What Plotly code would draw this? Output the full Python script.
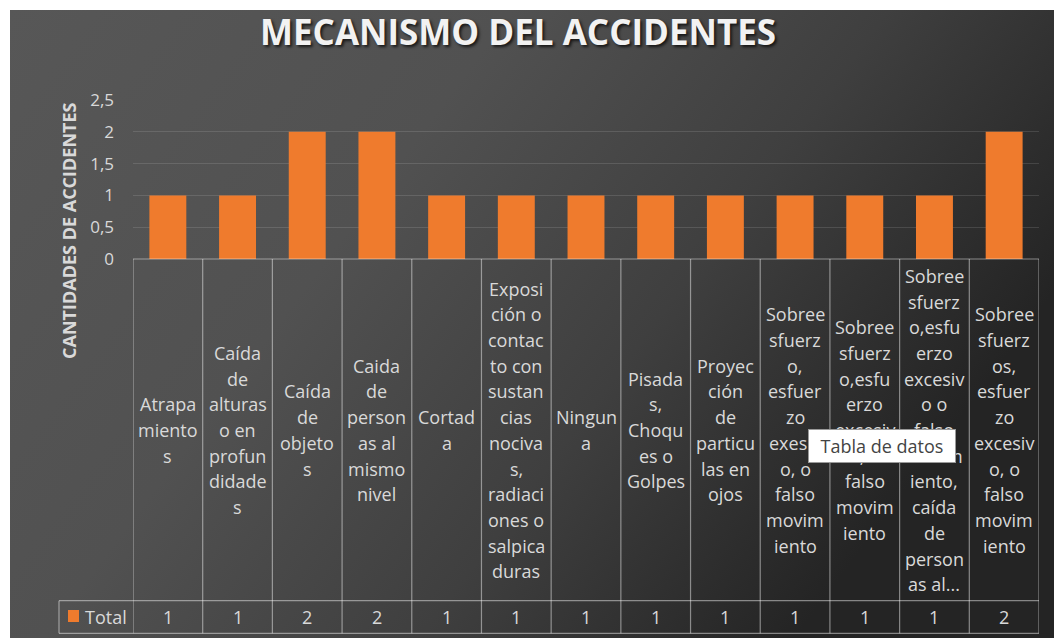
import base64
import plotly.graph_objects as go

# ---------------- data ----------------
categories = [
    "Atrapamientos",
    "Caída de alturas o en profundidades",
    "Caída de objetos",
    "Caida de personas al mismo nivel",
    "Cortada",
    "Exposición o contacto con sustancias nocivas, radiaciones o salpicaduras",
    "Ninguna",
    "Pisadas, Choques o Golpes",
    "Proyección de particulas en ojos",
    "Sobreesfuerzo, esfuerzo exesivo, o falso movimiento",
    "Sobreesfuerzo,esfuerzo excesivo, o falso movimiento",
    "Sobreesfuerzo,esfuerzo excesivo o falso movimiento, caída de personas al...",
    "Sobreesfuerzos, esfuerzo excesivo, o falso movimiento",
]
totals = [1, 1, 2, 2, 1, 1, 1, 1, 1, 1, 1, 1, 2]
series_name = "Total"
category_label_lines = [
    ["Atrapa", "miento", "s"],
    ["Caída", "de", "alturas", "o en", "profun", "didade", "s"],
    ["Caída", "de", "objeto", "s"],
    ["Caida", "de", "person", "as al", "mismo", "nivel"],
    ["Cortad", "a"],
    ["Exposi", "ción o", "contac", "to con", "sustan", "cias", "nociva", "s,",
     "radiaci", "ones o", "salpica", "duras"],
    ["Ningun", "a"],
    ["Pisada", "s,", "Choqu", "es o", "Golpes"],
    ["Proyec", "ción", "de", "particu", "las en", "ojos"],
    ["Sobree", "sfuerz", "o,", "esfuer", "zo", "exesiv", "o, o", "falso", "movim", "iento"],
    ["Sobree", "sfuerz", "o,esfu", "erzo", "excesiv", "o, o", "falso", "movim", "iento"],
    ["Sobree", "sfuerz", "o,esfu", "erzo", "excesiv", "o o", "falso", "movim", "iento,",
     "caída", "de", "person", "as al..."],
    ["Sobree", "sfuerz", "os,", "esfuer", "zo", "excesiv", "o, o", "falso", "movim", "iento"],
]
title_text = "MECANISMO DEL ACCIDENTES"
y_title_text = "CANTIDADES DE ACCIDENTES"
y_ticks = [0, 0.5, 1, 1.5, 2, 2.5]
tooltip_text = "Tabla de datos"

# ---------------- layout helpers ----------------
W, H = 1054, 638
PL, PR, PT, PB = 133, 1039, 100, 259   # plot area in pixels
ML, MR, MT, MB = PL, W - PR, PT, H - PB


def px_x(px):
    return (px - PL) / (PR - PL)


def px_y(py):
    return (PB - py) / (PB - PT)


FONT = "Open Sans"
TXT = "#d9d9d9"
BAR = "#EF7B2D"
TABLE_LINE = "rgba(255,255,255,0.45)"
LINE_H = 25.7

# background gradient (chart area)
svg = """<svg xmlns='http://www.w3.org/2000/svg' width='1044' height='628' viewBox='0 0 1044 628' preserveAspectRatio='none'>
<defs>
<linearGradient id='g' x1='0' y1='0' x2='1' y2='0.45'>
<stop offset='0' stop-color='#575757'/>
<stop offset='0.40' stop-color='#515151'/>
<stop offset='0.70' stop-color='#3f3f3f'/>
<stop offset='1' stop-color='#242424'/>
</linearGradient>
</defs>
<rect x='0' y='0' width='1044' height='628' fill='url(#g)'/>
</svg>"""
bg_src = "data:image/svg+xml;base64," + base64.b64encode(svg.encode()).decode()

fig = go.Figure()
fig.add_trace(go.Bar(
    x=categories, y=totals, name=series_name,
    marker=dict(color=BAR, line=dict(width=0)),
    width=0.53, showlegend=False,
))

annotations = []
shapes = []

# title
annotations.append(dict(
    text=f"<b>{title_text}</b>", xref="paper", yref="paper",
    x=px_x(518), y=px_y(31), xanchor="center", yanchor="middle",
    showarrow=False,
    font=dict(family=FONT, size=35, color="#f2f2f2", shadow="2px 2px 3px rgba(0,0,0,0.7)"),
))
# y-axis title
annotations.append(dict(
    text=f"<b>{y_title_text}</b>", xref="paper", yref="paper",
    x=px_x(69), y=px_y(231), xanchor="center", yanchor="middle",
    textangle=-90, showarrow=False,
    font=dict(family=FONT, size=18, color=TXT),
))

# category label cells (data table header)
cell_mid = px_y(430)
for cat, lines in zip(categories, category_label_lines):
    n = len(lines)
    for i, ln in enumerate(lines):
        annotations.append(dict(
            text=ln, xref="x", yref="paper", x=cat, y=cell_mid,
            yshift=-(i - (n - 1) / 2) * LINE_H,
            xanchor="center", yanchor="middle", showarrow=False,
            font=dict(family=FONT, size=18, color=TXT),
        ))

# value row
row_mid = px_y(617)
for cat, v in zip(categories, totals):
    annotations.append(dict(
        text=str(v), xref="x", yref="paper", x=cat, y=row_mid,
        xanchor="center", yanchor="middle", showarrow=False,
        font=dict(family=FONT, size=18, color=TXT),
    ))

# legend key in the table
annotations.append(dict(
    text=series_name, xref="paper", yref="paper", x=px_x(83), y=row_mid,
    xanchor="left", yanchor="middle", showarrow=False,
    font=dict(family=FONT, size=18, color=TXT),
))
shapes.append(dict(type="rect", xref="paper", yref="paper",
                   x0=px_x(68), x1=px_x(79), y0=px_y(610), y1=px_y(622),
                   fillcolor=BAR, line=dict(width=0), layer="above"))

# table grid
n_cat = len(categories)
y_top, y_row, y_bot = px_y(PB), px_y(600.7), px_y(633.3)
for k in range(n_cat + 1):
    shapes.append(dict(type="line", xref="x", yref="paper",
                       x0=k - 0.5, x1=k - 0.5, y0=y_top, y1=y_bot,
                       line=dict(color=TABLE_LINE, width=1.2)))
shapes.append(dict(type="line", xref="paper", yref="paper", x0=0, x1=1,
                   y0=y_top, y1=y_top, line=dict(color=TABLE_LINE, width=1.2)))
for yy in (y_row, y_bot):
    shapes.append(dict(type="line", xref="paper", yref="paper",
                       x0=px_x(59), x1=1, y0=yy, y1=yy,
                       line=dict(color=TABLE_LINE, width=1.2)))
shapes.append(dict(type="line", xref="paper", yref="paper",
                   x0=px_x(59), x1=px_x(59), y0=y_row, y1=y_bot,
                   line=dict(color=TABLE_LINE, width=1.2)))

# tooltip-like box
annotations.append(dict(
    text=tooltip_text, xref="paper", yref="paper", x=px_x(882), y=px_y(446),
    xanchor="center", yanchor="middle", showarrow=False,
    bgcolor="#ffffff", bordercolor="#9a9a9a", borderwidth=1, borderpad=3,
    width=140, height=26,
    font=dict(family=FONT, size=18, color="#444444"),
))

fig.update_layout(
    width=W, height=H,
    margin=dict(l=ML, r=MR, t=MT, b=MB, pad=0),
    paper_bgcolor="#ffffff",
    plot_bgcolor="rgba(0,0,0,0)",
    separators=",.",
    bargap=0.47,
    annotations=annotations,
    shapes=shapes,
    images=[dict(
        source=bg_src, xref="paper", yref="paper",
        x=px_x(10), y=px_y(10), sizex=(W - 10) / (PR - PL), sizey=(H - 10) / (PB - PT),
        xanchor="left", yanchor="top", sizing="stretch", layer="below",
    )],
    xaxis=dict(
        type="category", showticklabels=False, showgrid=False, zeroline=False,
        showline=False, ticks="", range=[-0.5, n_cat - 0.5], fixedrange=True,
    ),
    yaxis=dict(
        range=[0, 2.5], tickvals=y_ticks, showgrid=True,
        gridcolor="rgba(255,255,255,0.12)", gridwidth=1.3,
        zeroline=False, showline=False, ticks="",
        ticklabelstandoff=18,
        tickfont=dict(family=FONT, size=17, color=TXT),
    ),
    hovermode=False,
)

fig.write_html(
    "out.html",
    config={"displayModeBar": False, "staticPlot": True},
    post_script="document.body.style.margin='0';document.body.style.overflow='hidden';",
)
